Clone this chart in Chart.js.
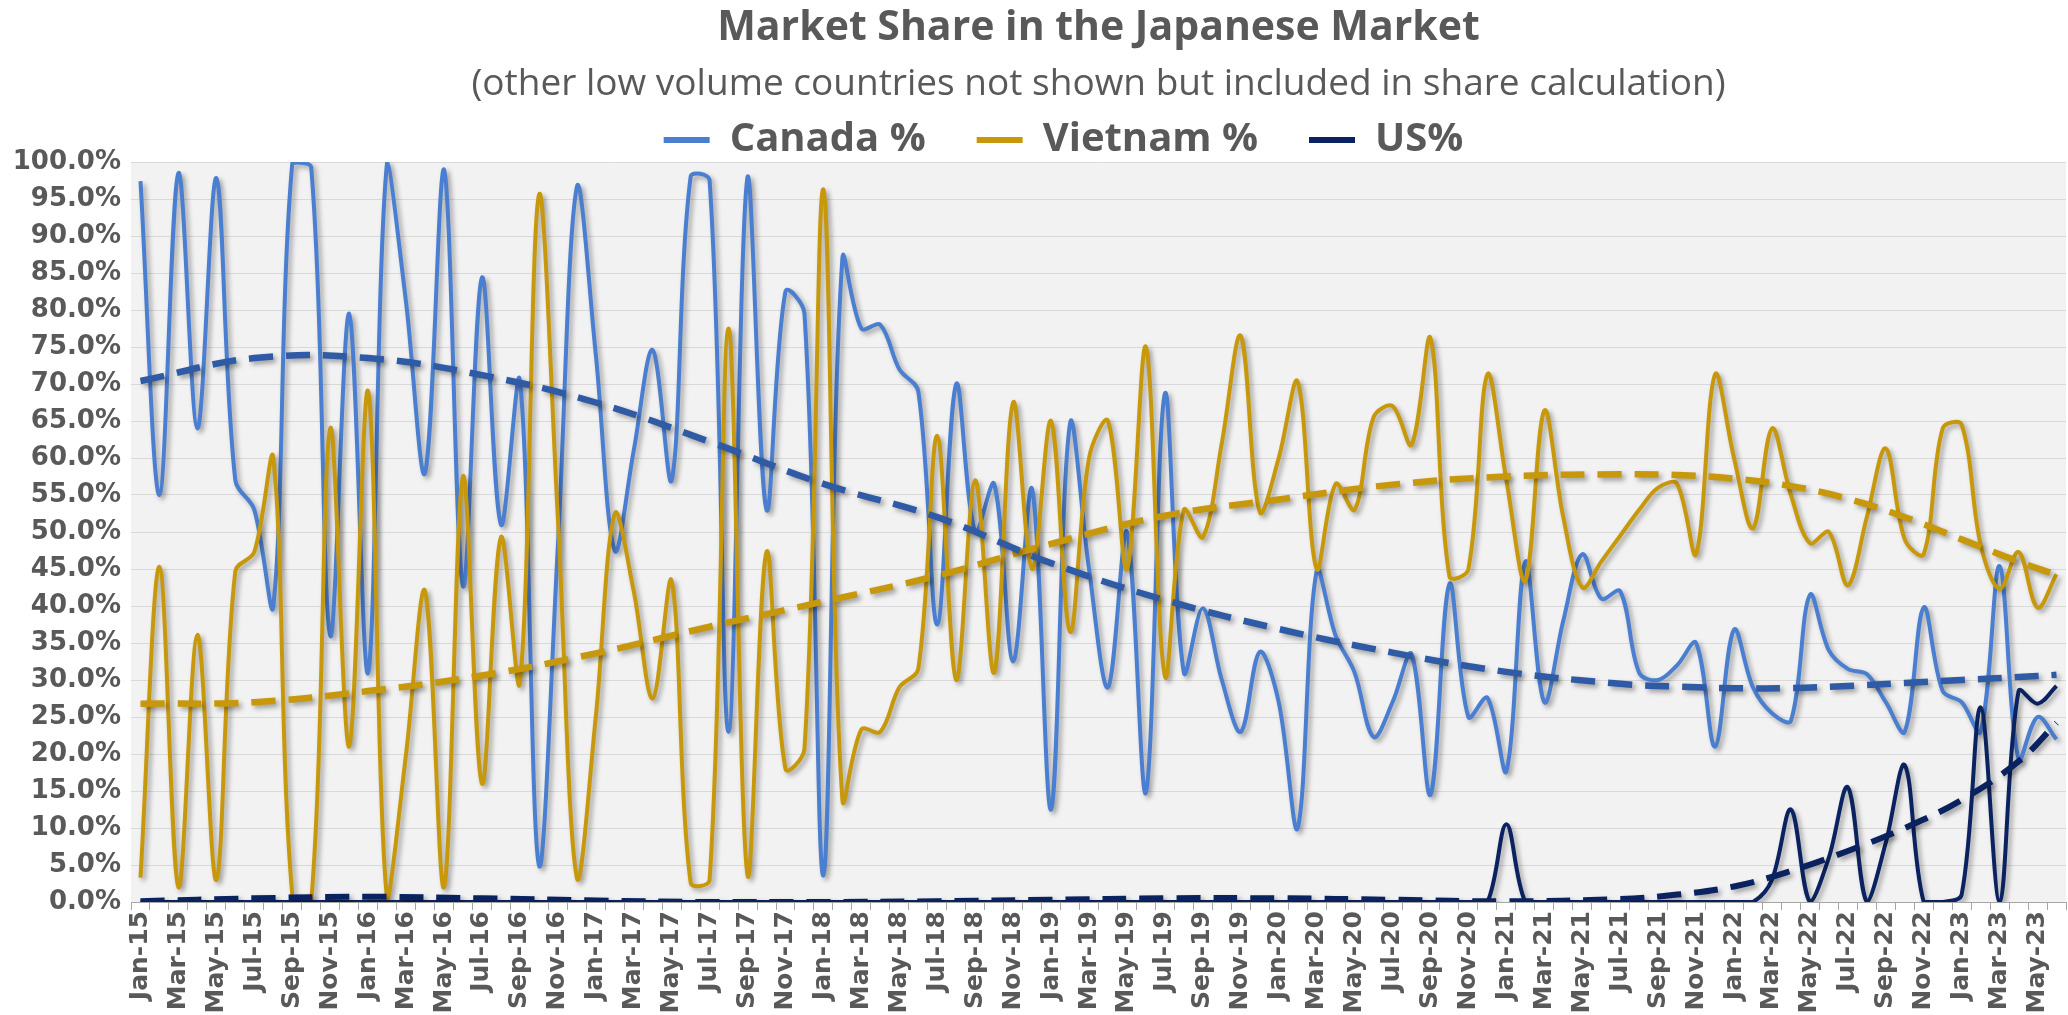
<!DOCTYPE html>
<html>
<head>
<meta charset="utf-8">
<title>Market Share in the Japanese Market</title>
<script src="https://cdn.jsdelivr.net/npm/chart.js@4.4.1/dist/chart.umd.min.js"></script>
<style>
  html, body { margin: 0; padding: 0; background: #ffffff; }
  #wrap { width: 2068px; height: 1015px; }
</style>
</head>
<body>
<div id="wrap"><canvas id="myChart" width="2068" height="1015"></canvas></div>
<script>
'use strict';

// month categories, Jan-15 .. Jun-23
const monNames = ['Jan', 'Feb', 'Mar', 'Apr', 'May', 'Jun', 'Jul', 'Aug', 'Sep', 'Oct', 'Nov', 'Dec'];
const months = [];
for (let k = 0; k < 102; k++) {
  months.push(monNames[k % 12] + '-' + (15 + Math.floor(k / 12)));
}

// monthly share, percent
const canada = [
  97.4, 55, 98.5, 64, 97.8, 57, 53, 40, 99.8, 99.3, 36, 79.5,
  31, 100, 81, 58, 99, 42.7, 84.4, 51, 70.5, 5, 48, 96.6,
  74, 47.5, 61, 74.6, 57, 98, 97.5, 23, 98, 53, 82.5, 79.5,
  3.6, 87, 77.5, 78, 72, 69, 37.5, 70, 50, 56.5, 32.5, 55.8,
  12.5, 64.7, 45, 29, 50, 14.8, 68.7, 31, 39.7, 30, 23, 33.8,
  27, 10, 44.7, 36, 31, 22.3, 27, 33.5, 14.5, 43, 25, 27.6,
  17.7, 46, 27, 38, 47, 41, 42, 31, 30, 32, 35, 21,
  36.8, 29, 25.5, 24.5, 41.5, 34, 31.5, 30.8, 27, 23, 39.8, 28.5,
  27, 23, 45.4, 19.3, 25, 22
];
const vietnam = [
  3.3, 45.3, 2, 36.1, 3, 44.7, 47.3, 60, 1, 0, 64, 21,
  69, 0.3, 20, 42, 2, 57.5, 16, 49.3, 29.6, 95.5, 52, 3.3,
  25, 52.5, 42, 27.5, 43.4, 2.6, 3, 77.5, 3.6, 47.3, 18, 20.7,
  96.3, 13.8, 23.3, 23, 29, 31.5, 63, 30, 57, 31, 67.5, 45,
  65, 36.5, 60, 65, 45, 75, 30.5, 53, 49.3, 62, 76.5, 52.7,
  60, 70.3, 45, 56.5, 53, 65.5, 67, 61.8, 76.2, 44, 45, 71.3,
  57, 43.4, 66.4, 52, 42.5, 46, 49.5, 53, 56, 56.5, 47, 71.3,
  60, 50.5, 64, 55, 48.5, 50, 42.8, 52, 61.3, 49, 47, 64,
  64.5, 48.3, 42.3, 47.3, 39.8, 44.3
];
const us = [
  0, 0, 0, 0, 0, 0, 0, 0, 0, 0, 0, 0,
  0, 0, 0, 0, 0, 0, 0, 0, 0, 0, 0, 0,
  0, 0, 0, 0, 0, 0, 0, 0, 0, 0, 0, 0,
  0, 0, 0, 0, 0, 0, 0, 0, 0, 0, 0, 0,
  0, 0, 0, 0, 0, 0, 0, 0, 0, 0, 0, 0,
  0, 0, 0, 0, 0, 0, 0, 0, 0, 0, 0, 0,
  10.5, 0, 0, 0, 0, 0, 0, 0, 0, 0, 0, 0,
  0, 0, 3, 12.5, 0, 6, 15.5, 0, 8, 18.5, 0, 0,
  1, 26.3, 0, 28.5, 26.8, 29.2
];

// dashed trendlines at these months
const trendIdx = [0, 6, 12, 18, 24, 30, 36, 42, 48, 54, 60, 66, 72, 78, 81, 84, 87, 90, 93, 96, 99, 101];
const canadaTrend = [70.4, 73.5, 73.5, 71.2, 67.5, 62.2, 56.5, 52.0, 45.8, 40.8, 36.9, 33.7, 31.1, 29.5, 29.1, 28.9, 28.9, 29.2, 29.6, 30.0, 30.4, 30.7];
const vietnamTrend = [26.8, 27.0, 28.5, 30.6, 33.6, 37.2, 40.6, 44.1, 48.4, 52.2, 54.4, 56.4, 57.5, 57.8, 57.7, 57.2, 56.2, 54.5, 52.0, 49.0, 46.0, 44.2];
const usTrend = [0.1, 0.5, 0.7, 0.5, 0.2, 0.0, 0.0, 0.1, 0.3, 0.5, 0.5, 0.3, 0.1, 0.4, 1.0, 2.1, 4.2, 6.9, 10.0, 13.8, 19.0, 24.2];

const seriesNames = ['Canada %', 'Vietnam %', 'US%'];
const lineColors = ['#4A7ED0', '#C8980C', '#0B2260'];
const trendColors = ['#2E5AA6', '#C8980C', '#0B2260'];
const greyText = '#595959';

function trendPoints(vals) {
  return trendIdx.map(function (m, k) {
    return { x: months[m], y: vals[k] };
  });
}

function lineSet(label, data, color, order) {
  return {
    label: label,
    data: data,
    borderColor: color,
    backgroundColor: color,
    borderWidth: 4,
    pointRadius: 0,
    tension: 0.35,
    order: order
  };
}

function trendSet(label, vals, color, width) {
  return {
    label: label,
    data: trendPoints(vals),
    borderColor: color,
    backgroundColor: color,
    borderWidth: width,
    borderDash: [24, 13],
    pointRadius: 0,
    tension: 0.4,
    order: 0
  };
}

// grey plot area like the excel original
const plotBg = {
  id: 'plotBg',
  beforeDraw(chart) {
    const a = chart.chartArea;
    const ctx = chart.ctx;
    ctx.save();
    ctx.fillStyle = '#F2F2F2';
    ctx.fillRect(a.left, a.top, a.right - a.left, a.bottom - a.top);
    ctx.restore();
  }
};

// soft drop shadow under every line
const lineShadow = {
  id: 'lineShadow',
  beforeDatasetDraw(chart) {
    const ctx = chart.ctx;
    ctx.save();
    ctx.shadowColor = 'rgba(0, 0, 0, 0.35)';
    ctx.shadowBlur = 5;
    ctx.shadowOffsetX = 3;
    ctx.shadowOffsetY = 3;
  },
  afterDatasetDraw(chart) {
    chart.ctx.restore();
  }
};

// the excel legend sits a little left of the plot centre
const legendShift = {
  id: 'legendShift',
  afterLayout(chart) {
    chart.legend.left -= 35;
    chart.legend.right -= 35;
  }
};

var ctx = document.getElementById('myChart');

var myChart = new Chart(ctx, {
  type: 'line',
  data: {
    labels: months,
    datasets: [
      lineSet(seriesNames[0], canada, lineColors[0], 3),
      lineSet(seriesNames[1], vietnam, lineColors[1], 2),
      lineSet(seriesNames[2], us, lineColors[2], 1),
      trendSet('Canada trend', canadaTrend, trendColors[0], 6.5),
      trendSet('Vietnam trend', vietnamTrend, trendColors[1], 6.5),
      trendSet('US trend', usTrend, trendColors[2], 6)
    ]
  },
  options: {
    responsive: false,
    animation: false,
    layout: { padding: { left: 0, right: 2, top: 0, bottom: 0 } },
    plugins: {
      title: {
        display: true,
        text: 'Market Share in the Japanese Market',
        fullSize: false,
        color: greyText,
        font: { family: 'Open Sans', size: 41, weight: 'bold' },
        padding: { top: 4, bottom: 4 }
      },
      subtitle: {
        display: true,
        text: '(other low volume countries not shown but included in share calculation)',
        fullSize: false,
        color: greyText,
        font: { family: 'Open Sans', size: 37, weight: 'normal' },
        // negative bottom pad lets the legend row start higher
        padding: { top: 4.6, bottom: -37.2 }
      },
      legend: {
        position: 'top',
        fullSize: false,
        maxHeight: 93,
        labels: {
          boxWidth: 46,
          boxHeight: 6,
          padding: 51,
          color: greyText,
          font: { family: 'Open Sans', size: 40, weight: 'bold' },
          generateLabels: function () {
            return [0, 1, 2].map(function (i) {
              return {
                text: seriesNames[i],
                fillStyle: lineColors[i],
                strokeStyle: lineColors[i],
                lineWidth: 0,
                hidden: false,
                datasetIndex: i,
                fontColor: greyText
              };
            });
          }
        }
      },
      tooltip: { enabled: false }
    },
    scales: {
      x: {
        type: 'category',
        offset: true,
        afterFit: function (scale) {
          scale.height = 113;
          scale.paddingLeft = 0;
          scale.paddingRight = 0;
        },
        grid: {
          offset: true,
          drawOnChartArea: false,
          drawTicks: true,
          tickLength: 8,
          color: '#A6A6A6'
        },
        border: { color: '#A6A6A6' },
        ticks: {
          autoSkip: false,
          maxRotation: 90,
          minRotation: 90,
          padding: 1,
          color: greyText,
          font: { family: 'DejaVu Sans', size: 25, weight: 'bold' },
          callback: function (v, i) { return i % 2 === 0 ? months[i] : ''; }
        }
      },
      y: {
        min: 0,
        max: 100,
        afterFit: function (scale) { scale.width = 131; },
        grid: { color: '#D9D9D9', drawTicks: false },
        border: { display: false },
        ticks: {
          stepSize: 5,
          padding: 10,
          color: greyText,
          font: { family: 'DejaVu Sans', size: 26, weight: 'bold' },
          callback: function (v) { return v.toFixed(1) + '%'; }
        }
      }
    }
  },
  plugins: [plotBg, lineShadow, legendShift]
});
</script>
</body>
</html>
